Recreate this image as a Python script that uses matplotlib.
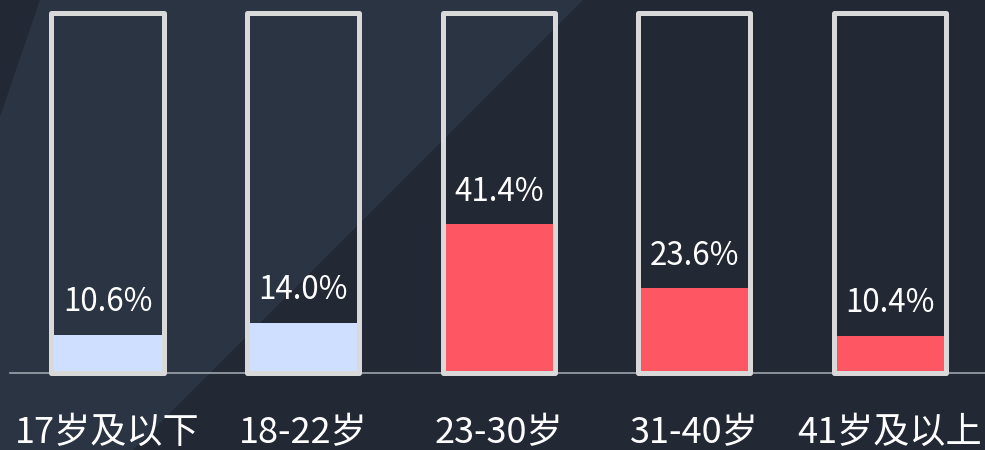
import matplotlib
matplotlib.use("Agg")
from matplotlib import pyplot as plt
from matplotlib.patches import Polygon

plt.rcParams['font.family'] = ['Noto Sans CJK SC', 'DejaVu Sans']

# data
categories = ["17岁及以下", "18-22岁", "23-30岁", "31-40岁", "41岁及以上"]
values = [10.6, 14.0, 41.4, 23.6, 10.4]
value_labels = ["10.6%", "14.0%", "41.4%", "23.6%", "10.4%"]
fill_colors = ["#cfdfff", "#cfdfff", "#ff5663", "#ff5663", "#ff5663"]
full_scale = [100] * len(values)

dark_bg = "#232934"
light_bg = "#2b3443"

fig = plt.figure(figsize=(9.85, 4.5), dpi=100)
fig.patch.set_facecolor(dark_bg)

ax = fig.add_axes([0, 0, 1, 1])
ax.patch.set_alpha(0)

# lighter diagonal band in the background (axes covers whole figure)
W, H = 985.0, 450.0
band = [(0, 117), (40, 0), (583, 0), (133, 450), (0, 450)]
ax.add_patch(Polygon([(x / W, 1 - y / H) for x, y in band], closed=True,
                     transform=ax.transAxes, facecolor=light_bg,
                     edgecolor="none", zorder=0))

x = list(range(len(categories)))
bw = 0.573

ax.axhline(0, xmin=10 / W, xmax=1, color="#9ea4ac", lw=1.2, zorder=1)

ax.bar(x, values, width=bw, color=fill_colors, zorder=2)
ax.bar(x, full_scale, width=bw, fill=False, edgecolor="#d9d9d9",
       linewidth=3.6, joinstyle="round", zorder=3)

for xi, v, lab in zip(x, values, value_labels):
    ax.text(xi, v + 9.0, lab, ha="center", va="center", color="white",
            fontsize=22.5, zorder=4)

for xi, cat in zip(x, categories):
    ax.text(xi, -16.6, cat, ha="center", va="center", color="white",
            fontsize=26, zorder=4)

ax.set_xlim(-0.5496, 4.486)
ax.set_ylim(-21.4, 103.6)
ax.axis("off")

fig.savefig("out.png", dpi=100, facecolor=fig.get_facecolor())
